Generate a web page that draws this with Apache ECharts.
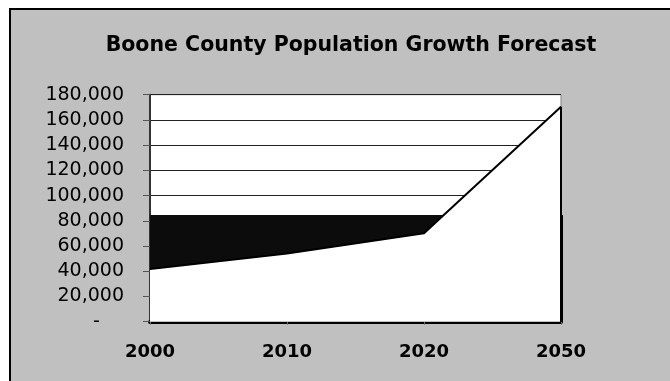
<!DOCTYPE html>
<html>
<head>
<meta charset="utf-8">
<script src="https://cdn.jsdelivr.net/npm/echarts@6/dist/echarts.min.js"></script>
<style>
  html, body { margin: 0; padding: 0; background: #ffffff; overflow: hidden; width: 670px; height: 381px; }
  #frame { position: absolute; left: 9px; top: 8px; width: 720px; height: 420px;
           background: #c0c0c0; border-top: 2px solid #000; border-left: 2px solid #000; }
  #chart { position: absolute; left: 0; top: 0; width: 670px; height: 381px; }
</style>
</head>
<body>
<div id="frame"></div>
<div id="chart"></div>
<script>
// ---- data ----
const titleText = 'Boone County Population Growth Forecast';
const categories = ['2000', '2010', '2020', '2050'];
const population = [41786, 54165, 70100, 170500];
const darkBand = [84600, 84600, 84600, 84600];
const yMin = 0, yMax = 180000, yInterval = 20000;

const chart = echarts.init(document.getElementById('chart'), null, { renderer: 'canvas' });
const last = categories.length - 1;

chart.setOption({
  backgroundColor: 'transparent',
  animation: false,
  title: {
    text: titleText,
    left: 346, top: 30, textAlign: 'center',
    textStyle: { fontFamily: 'DejaVu Sans', fontWeight: 'bold', fontSize: 20.5, color: '#000' }
  },
  grid: {
    left: 150, right: 109, top: 94.7, bottom: 59.3,
    show: true, backgroundColor: '#ffffff', borderColor: '#808080', borderWidth: 1
  },
  xAxis: {
    type: 'category', data: categories, boundaryGap: false,
    axisLine: { show: true, lineStyle: { color: '#000', width: 4 } },
    axisTick: { show: true, length: 3, lineStyle: { color: '#666' } },
    axisLabel: { margin: 22, fontFamily: 'DejaVu Sans', fontWeight: 'bold', fontSize: 18, color: '#000' },
    splitLine: { show: false }
  },
  yAxis: {
    type: 'value', min: yMin, max: yMax, interval: yInterval,
    axisLine: { show: true, lineStyle: { color: '#333', width: 2 } },
    axisTick: { show: true, length: 7, lineStyle: { color: '#555' } },
    axisLabel: {
      margin: 26, fontFamily: 'DejaVu Sans', fontSize: 19, color: '#000',
      formatter: v => v === 0 ? '-    ' : v.toLocaleString('en-US')
    },
    splitLine: { show: true, lineStyle: { color: '#222', width: 1 } }
  },
  series: [
    {
      type: 'line', data: darkBand, symbol: 'none', z: 2,
      lineStyle: { width: 0 },
      areaStyle: { color: '#0c0c0c', opacity: 1 },
      markLine: {
        silent: true, symbol: 'none', label: { show: false },
        lineStyle: { color: '#000', width: 3, type: 'solid' },
        data: [[{ coord: [categories[last], 0] }, { coord: [categories[last], darkBand[last]] }]]
      }
    },
    {
      type: 'line', data: population, symbol: 'none', z: 3,
      lineStyle: { color: '#000', width: 2 },
      areaStyle: { color: '#ffffff', opacity: 1 },
      markLine: {
        silent: true, symbol: 'none', label: { show: false },
        lineStyle: { color: '#000', width: 2, type: 'solid' },
        data: [[{ coord: [categories[last], 0] }, { coord: [categories[last], population[last]] }]]
      }
    }
  ]
});
</script>
</body>
</html>
